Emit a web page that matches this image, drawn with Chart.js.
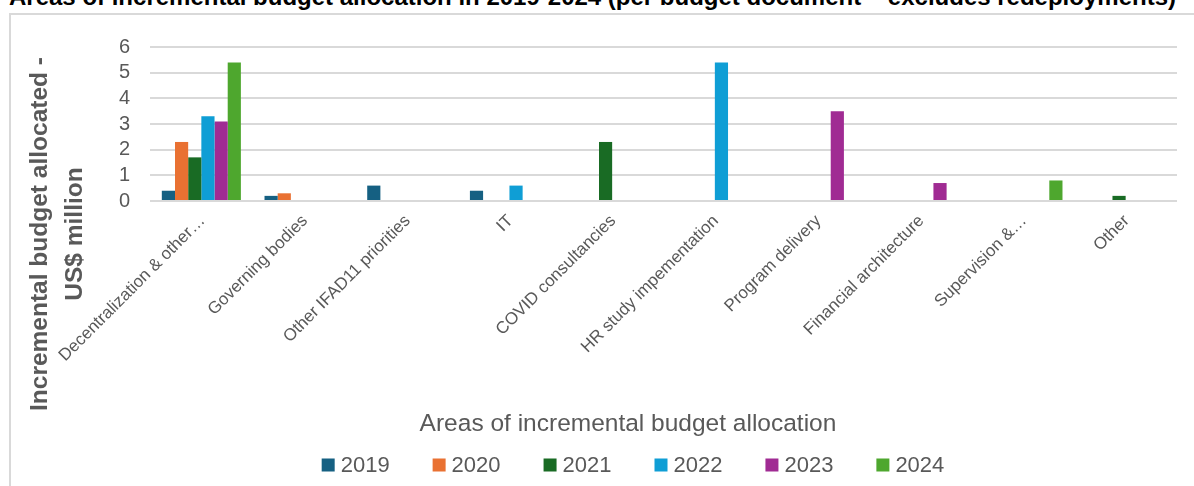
<!DOCTYPE html>
<html>
<head>
<meta charset="utf-8">
<script src="https://cdn.jsdelivr.net/npm/chart.js@4.4.1/dist/chart.umd.min.js"></script>
<style>
  html, body { margin: 0; padding: 0; background: #fff; }
  body { width: 1194px; height: 486px; overflow: hidden; position: relative; }
  #title {
    position: absolute; left: 9px; top: -17px;
    font: bold 24px "Liberation Sans", Arial, sans-serif;
    color: #000; white-space: nowrap;
  }
  #frame {
    position: absolute; left: 9px; top: 13px; width: 1300px; height: 600px;
    border: 2px solid #d9d9d9; box-sizing: border-box;
  }
  #wrap { position: absolute; left: 11px; top: 15px; width: 1183px; height: 471px; }
</style>
</head>
<body>
<div id="title">Areas of incremental budget allocation in 2019-2024 (per budget document – excludes redeployments)</div>
<div id="frame"></div>
<div id="wrap"><canvas id="c"></canvas></div>
<script>
// Budget areas on the category axis
const categories = [
  'Decentralization & other…', 'Governing bodies', 'Other IFAD11 priorities', 'IT',
  'COVID consultancies', 'HR study impementation', 'Program delivery',
  'Financial architecture', 'Supervision &…', 'Other'
];

// Incremental allocation per year, US$ million (null = nothing allocated)
const years = ['2019', '2020', '2021', '2022', '2023', '2024'];
const values2019 = [0.4, 0.2, 0.6, 0.4, null, null, null, null, null, null];
const values2020 = [2.3, 0.3, null, null, null, null, null, null, null, null];
const values2021 = [1.7, null, null, null, 2.3, null, null, null, null, 0.2];
const values2022 = [3.3, null, null, 0.6, null, 5.4, null, null, null, null];
const values2023 = [3.1, null, null, null, null, null, 3.5, 0.7, null, null];
const values2024 = [5.4, null, null, null, null, null, null, null, 0.8, null];
const yearColors = ['#156082', '#E97132', '#196B24', '#0F9ED5', '#A02B93', '#4EA72E'];

const yTicks = [0, 1, 2, 3, 4, 5, 6];
const yTitleLines = ['Incremental budget allocated -', 'US$ million'];
const xTitle = 'Areas of incremental budget allocation';

const seriesValues = [values2019, values2020, values2021, values2022, values2023, values2024];

const datasets = years.map((y, i) => ({
  label: y,
  data: seriesValues[i],
  backgroundColor: yearColors[i],
  borderWidth: 0,
  categoryPercentage: 0.77,
  barPercentage: 1.0
}));

const FONT = '"Liberation Sans", Arial, sans-serif';
const TEXT = '#595959';

// Axis titles and legend placed in the free space around the plot
const annotations = {
  id: 'annotations',
  afterDraw(chart) {
    const ctx = chart.ctx;
    ctx.save();
    ctx.fillStyle = TEXT;
    ctx.textBaseline = 'middle';
    ctx.textAlign = 'center';

    // vertical axis title, two lines
    ctx.save();
    ctx.font = 'bold 24.5px ' + FONT;
    ctx.translate(29, 219);
    ctx.rotate(-Math.PI / 2);
    yTitleLines.forEach((t, i) => ctx.fillText(t, 0, i * 35));
    ctx.restore();

    // horizontal axis title
    ctx.font = '24.5px ' + FONT;
    ctx.fillText(xTitle, 617, 409);

    // legend
    ctx.font = '22px ' + FONT;
    ctx.textAlign = 'left';
    const box = 13, gap = 6, spacing = 43;
    const items = chart.data.datasets.map(d => ({
      label: d.label, color: d.backgroundColor, w: ctx.measureText(d.label).width
    }));
    const total = items.reduce((s, it) => s + box + gap + it.w, 0) + spacing * (items.length - 1);
    let x = 622 - total / 2;
    const cy = 450;
    items.forEach(it => {
      ctx.fillStyle = it.color;
      ctx.fillRect(x, cy - box / 2, box, box);
      ctx.fillStyle = TEXT;
      ctx.fillText(it.label, x + box + gap, cy + 1);
      x += box + gap + it.w + spacing;
    });
    ctx.restore();
  }
};

new Chart(document.getElementById('c'), {
  type: 'bar',
  data: { labels: categories, datasets },
  plugins: [annotations],
  options: {
    responsive: true,
    maintainAspectRatio: false,
    animation: false,
    layout: { padding: { top: 28, right: 17, left: 0, bottom: 0 } },
    plugins: { legend: { display: false }, tooltip: { enabled: false } },
    scales: {
      x: {
        grid: { display: false },
        border: { display: false },
        ticks: {
          autoSkip: false, minRotation: 45, maxRotation: 45,
          color: TEXT, font: { family: FONT, size: 17 }, padding: 2, labelOffset: 1
        },
        afterFit(scale) { scale.height = 285; }
      },
      y: {
        min: 0, max: 6,
        afterBuildTicks(scale) { scale.ticks = yTicks.map(v => ({ value: v })); },
        grid: { color: '#d9d9d9', lineWidth: 2, drawTicks: false },
        border: { display: false },
        ticks: { autoSkip: false, color: TEXT, font: { family: FONT, size: 20 }, padding: 20 },
        afterFit(scale) { scale.width = 139; }
      }
    }
  }
});
</script>
</body>
</html>
